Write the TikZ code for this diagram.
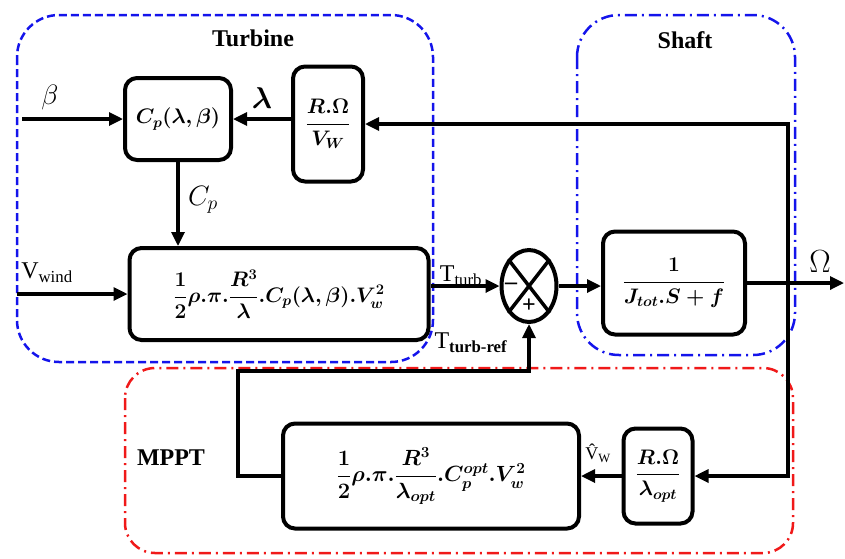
\RequirePackage{fix-cm}
\documentclass[tikz,border=0pt]{standalone}
\usepackage{amsmath,bm}
\usepackage{fontspec}
\setmainfont{Liberation Serif}
\definecolor{frameblue}{RGB}{20,20,235}
\definecolor{framered}{RGB}{240,25,25}
\usetikzlibrary{arrows.meta,positioning,shapes.geometric,calc}

\begin{document}
\begin{tikzpicture}[x=1pt,y=-1pt,
  blk/.style={
    rectangle, rounded corners=12pt,
    draw=black, line width=4pt,
    fill=white,
    font=\fontsize{21}{25}\selectfont\boldmath,
    align=center, inner sep=2pt
  },
  sumnode/.style={ellipse, draw=black, line width=4pt, fill=white,
    minimum width=55pt, minimum height=72pt, inner sep=0pt},
  sgn/.style={font=\fontsize{24}{28}\selectfont\bfseries, inner sep=0pt},
  conn/.style={-{Triangle[length=14pt,width=13pt]}, line width=3.2pt},
  lbl/.style={font=\fontsize{24}{28}\selectfont},
  grptitle/.style={font=\fontsize{24}{28}\selectfont\bfseries},
  turbframe/.style={draw=frameblue, line width=2.5pt,
    dash pattern=on 8pt off 4pt, rounded corners=42pt},
  shaftframe/.style={draw=frameblue, line width=2.5pt,
    dash pattern=on 12pt off 5pt on 2pt off 5pt, rounded corners=42pt},
  mpptframe/.style={draw=framered, line width=2.5pt,
    dash pattern=on 12pt off 5pt on 2pt off 5pt, rounded corners=30pt}
]
\useasboundingbox (0,0) rectangle (845,558);

\draw[turbframe]  (17,15)  rectangle (433,362);
\draw[shaftframe] (577,15) rectangle (795,355);
\draw[mpptframe]  (125,368) rectangle (793,553);

\node[grptitle] (turbttl)  at (253,38)  {Turbine};
\node[grptitle] (shaftttl) at (685,40)  {Shaft};
\node[grptitle] (mpptttl)  at (171,458) {MPPT};

\node[blk, minimum width=106pt, minimum height=82pt]  (cpblk) at (178,119) {$C_p(\lambda,\beta)$};
\node[blk, minimum width=70pt,  minimum height=115pt] (rwblk) at (328,124) {$\dfrac{R.\Omega}{V_W}$};
\node[blk, minimum width=299pt, minimum height=92pt]  (pwblk) at (279,294)
  {$\dfrac{1}{2}\rho.\pi.\dfrac{R^3}{\lambda}.C_p(\lambda,\beta).V_w^2$};
\node[sumnode] (sum) at (529,286) {};
\node[blk, minimum width=142pt, minimum height=103pt] (shblk) at (674,283) {$\dfrac{1}{J_{tot}.S+f}$};
\node[blk, minimum width=296pt, minimum height=105pt, font=\fontsize{22}{26}\selectfont\boldmath] (mpblk) at (431,476)
  {$\dfrac{1}{2}\rho.\pi.\dfrac{R^3}{\lambda_{opt}}.C_p^{opt}.V_w^2$};
\node[blk, minimum width=69pt,  minimum height=95pt]  (loblk) at (658,476) {$\dfrac{R.\Omega}{\lambda_{opt}}$};

\draw[line width=3.5pt] (sum.north west) -- (sum.south east);
\draw[line width=3.5pt] (sum.north east) -- (sum.south west);
\node[sgn] (minus) at (511,286) {--};
\node[sgn] (plus)  at (529,306) {+};

\coordinate (betain) at (22,119);
\coordinate (vwin)   at (17,294);
\coordinate (jn)     at (788,283);
\coordinate (omout)  at (844,283);
\coordinate (refl)   at (238,371);

\draw[conn] (betain) -- (cpblk.west);
\draw[conn] (rwblk.west |- cpblk) -- (cpblk.east);
\draw[conn] (cpblk.south) -- (cpblk.south |- pwblk.north);
\draw[conn] (vwin) -- (vwin -| pwblk.west);
\draw[conn] (pwblk.east |- sum) -- (sum.west);
\draw[conn] (sum.east) -- (sum.east -| shblk.west);
\draw[conn] (shblk.east) -- (omout);
\draw[conn] (jn) |- (rwblk.east);
\draw[conn] (jn) |- (loblk.east);
\draw[conn] (loblk.west) -- (mpblk.east);
\draw[conn] (mpblk.west) -| (refl) -| (sum.south);

\node[font=\fontsize{28}{32}\selectfont] (betalbl) at (50,97) {$\beta$};
\node[font=\fontsize{30}{34}\selectfont] (lamlbl)  at (262,98) {$\bm{\lambda}$};
\node[font=\fontsize{28}{32}\selectfont] (cplbl)   at (203,200) {$C_p$};
\node[lbl] (vwlbl)   at (47,273)  {V\textsubscript{wind}};
\node[lbl] (ttlbl)   at (461,276) {T\textsubscript{turb}};
\node[lbl] (trlbl)   at (471,343) {T\textsubscript{\textbf{turb-ref}}};
\node[font=\fontsize{32}{36}\selectfont] (omlbl) at (820,262) {$\Omega$};
\node[font=\fontsize{18}{22}\selectfont] (vhlbl) at (598,453) {\^{V}\textsubscript{W}};
\end{tikzpicture}
\end{document}
